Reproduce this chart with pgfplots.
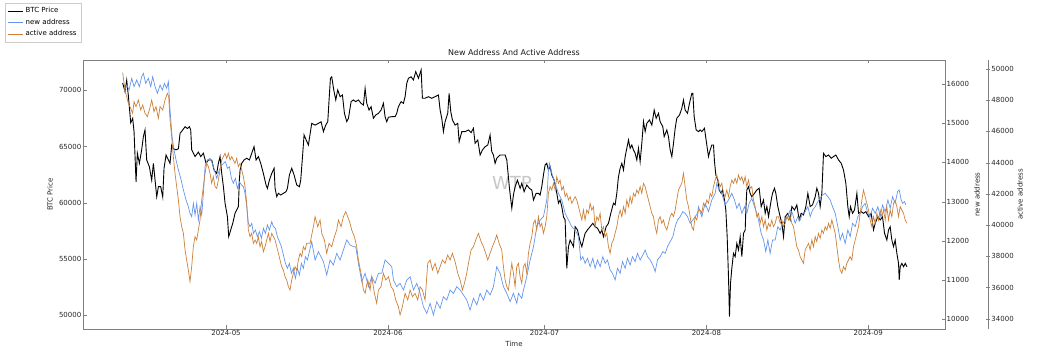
\documentclass[border=0pt]{standalone}
\usepackage{fontspec}
\setmainfont{DejaVu Sans}
\usepackage{pgfplots}
\pgfplotsset{compat=1.18}
\definecolor{nblue}{RGB}{100,149,237}
\definecolor{aorange}{RGB}{205,128,55}
\definecolor{framec}{RGB}{128,128,128}
\newcommand\tk{\fontsize{7}{8}\selectfont}
\pgfplotsset{
  base/.style={scale only axis, width=862pt, height=269pt,
    axis line style={framec}, tick style={framec},
    major tick length=3.5pt, tick align=inside,
    tick label style={font=\tk, text=black!85},
    label style={font=\tk, text=black!85},
    /pgf/number format/assume math mode=true,
    /pgf/number format/fixed, /pgf/number format/1000 sep={},
    scaled y ticks=false, scaled x ticks=false,
    yticklabel style={inner sep=1.5pt},
    xticklabel style={inner sep=1.5pt}
  }
}
\begin{document}
\begin{tikzpicture}
\useasboundingbox (0,0) rectangle (1039pt,352pt);
% ---------- BTC price (left axis) ----------
\begin{axis}[base, at={(83pt,23pt)}, anchor=south west,
  xmin=-27.4, xmax=137.7, ymin=48754, ymax=72697,
  xtick={0,31,61,92,123},
  xticklabels={2024-05,2024-06,2024-07,2024-08,2024-09},
  ytick={50000,55000,60000,65000,70000},
  xtick pos=both, xticklabel pos=bottom, ytick pos=left,
  xlabel={Time}, ylabel={BTC Price},
  title={New Address And Active Address},
  xlabel style={at={(axis description cs:0.5,-0.0558)}, anchor=center},
  ylabel style={at={(axis description cs:-0.0383,0.5)}, anchor=center},
  title style={at={(axis description cs:0.5,1.004)}, anchor=center, font=\fontsize{8}{9}\selectfont, text=black!90},
  legend cell align=left,
  legend style={at={(-0.0905,1.212)}, anchor=north west, font=\tk, draw=black!20, inner sep=2.5pt, row sep=0.6pt},
  legend image code/.code={\draw[#1] (0pt,0pt) -- (15pt,0pt);},
]
\node[text=black!22, font=\fontsize{18}{18}\selectfont] at (rel axis cs:0.4977,0.5428) {WTP};
\addplot[black, line width=0.9pt] coordinates {
(-19.80,70650) (-19.35,69875) (-19.03,70900) (-18.71,69500) (-18.26,67100) (-17.88,67500) (-17.62,66300) (-17.24,61860) (-16.99,64400) (-16.60,63500) (-16.16,64700) (-15.84,65870) (-15.52,66470) (-15.20,63800) (-14.69,63200) (-14.24,62000) (-13.92,63500) (-13.28,60530) (-12.96,61420) (-12.52,61420) (-12.13,60500) (-11.88,63060) (-11.49,64240) (-11.05,63800) (-10.73,63500) (-10.41,65130) (-10.09,64800) (-9.58,64700) (-9.13,64800) (-8.81,66170) (-8.30,66470) (-7.85,66760) (-7.41,66600) (-7.02,66760) (-6.77,66470) (-6.58,64700) (-5.94,64100) (-5.30,64500) (-4.85,64100) (-4.34,64400) (-3.83,63500) (-3.38,63800) (-2.75,63800) (-2.30,62900) (-1.79,62600) (-1.47,63500) (-1.15,64100) (-0.83,62600) (-0.51,61420) (-0.19,59950) (0.26,58750) (0.51,56970) (0.89,57570) (1.28,58160) (1.72,59050) (2.04,59350) (2.36,59650) (2.55,62000) (2.68,62900) (3.00,63500) (3.45,63800) (3.96,63950) (4.47,63800) (4.92,64400) (5.36,64980) (5.75,63800) (6.19,64100) (6.64,63500) (7.15,62600) (7.66,61570) (7.92,61270) (8.30,62000) (8.75,62600) (9.20,63060) (9.39,61280) (9.71,60530) (10.03,60830) (10.47,60680) (10.98,60830) (11.49,60980) (11.75,61270) (12.13,62460) (12.58,63060) (13.03,62460) (13.54,61570) (14.05,61420) (14.30,62000) (14.69,64390) (14.94,66020)
(15.77,65130) (16.41,67060) (17.05,66900) (17.69,67060) (18.20,67200) (18.65,66320) (19.09,66900) (19.48,67200) (19.73,69140) (19.99,71070) (20.24,71200) (20.63,70030) (21.01,69140) (21.39,70030) (21.84,69430) (22.29,69580) (22.67,67950) (23.12,67210) (23.44,67500) (23.95,68990) (24.39,69140) (24.84,68990) (25.35,69140) (25.86,68840) (26.31,68690) (26.63,70170) (26.95,68840) (27.39,68240) (27.78,68540) (28.22,67510) (28.67,67800) (29.18,67950) (29.69,68240) (30.14,68840) (30.46,67650) (30.78,67200) (31.10,67600) (31.74,67650) (32.38,67650) (32.69,67950) (33.01,68540) (33.52,68990) (33.97,68840) (34.29,69430) (34.61,70620) (34.93,71070) (35.44,71200) (35.89,70920) (36.33,71660) (36.85,71070) (37.36,71810) (37.61,69290) (38.12,69290) (38.76,69430) (39.40,69290) (40.04,69430) (40.68,69580) (41.00,68240) (41.31,67510) (41.63,66320) (41.95,67200) (42.46,67950) (42.72,69730) (43.04,68100) (43.36,67360) (43.87,66900) (44.38,67060) (44.64,65420) (45.15,66320) (45.79,66320) (46.42,66470) (46.93,66230) (47.38,66620) (47.70,65280) (48.21,65580) (48.66,64240) (49.11,64690) (49.62,64980) (50.13,65130) (50.57,66020) (50.89,64540) (51.21,64240) (51.53,63500) (51.85,63950) (52.49,64240)
(53.45,64240) (53.77,63800) (54.28,61280) (54.73,59500) (55.04,60680) (55.36,61420) (55.81,62000) (56.32,61270) (56.64,61720) (57.09,60980) (57.60,61570) (58.11,61270) (58.56,61130) (58.88,60230) (59.39,60830) (59.83,60830) (60.15,60680) (60.47,61420) (60.79,62460) (61.11,63350) (61.43,63500) (61.75,62900) (62.07,63200) (62.39,62460) (62.84,62000) (63.35,60830) (63.67,59950) (63.98,60230) (64.30,59650) (64.62,58750) (64.94,58460) (65.26,54160) (65.58,56080) (65.90,56670) (66.22,56380) (66.54,56080) (66.86,57860) (67.31,57570) (67.82,56520) (68.14,56080) (68.45,56670) (68.77,57270) (69.22,57570) (69.73,57860) (70.24,58160) (70.69,57860) (71.14,57720) (71.65,57270) (71.97,57570) (72.29,56970) (72.80,57860) (73.24,58160) (73.69,59050) (74.20,59950) (74.52,59800) (74.84,60830) (75.16,62310) (75.48,63060) (75.80,63500) (76.12,62900) (76.44,64100) (76.76,64840) (77.08,65580) (77.39,64840) (77.71,65130) (78.03,64690) (78.35,64400) (78.67,63800) (78.99,64840) (79.31,63650) (79.63,65280) (79.95,67210) (80.27,66320) (80.59,67060) (81.10,67360) (81.55,66900) (82.00,68240) (82.38,67510) (82.82,67950) (83.14,67200) (83.65,66760) (83.91,65870) (84.42,66470) (84.74,65870) (85.06,64690) (85.38,64100) (85.70,65280) (86.02,66620) (86.33,67510) (86.85,67800) (87.29,68390) (87.61,69140) (87.93,68240) (88.38,67950) (88.76,68840) (89.21,69730) (89.40,69730) (89.66,67650) (90.04,66470) (90.49,66320)
(90.80,66470) (91.12,66320) (91.63,66620) (92.08,65130) (92.40,64100) (92.72,64690) (93.04,65130) (93.36,65130) (93.55,63650) (93.81,62460) (94.19,62000) (94.44,61130) (94.83,60830) (95.08,61130) (95.47,60230) (95.72,59350) (95.98,56970) (96.23,53410) (96.42,49850) (96.62,52820) (96.87,54160) (97.19,55490) (97.51,55190) (97.83,56380) (98.15,55790) (98.47,56970) (98.79,55190) (99.11,57270) (99.43,57570) (99.55,59350) (99.74,61130) (100.06,61420) (100.38,60830) (100.70,60530) (101.21,60830) (101.66,61130) (102.11,61280) (102.49,59640) (102.94,60230) (103.26,59050) (103.58,59650) (103.90,58750) (104.41,60230) (104.66,60830) (105.04,61280) (105.30,60830) (105.68,59650) (106.13,58750) (106.45,58160) (106.77,56970) (107.09,58750) (107.60,59050) (108.05,58460) (108.37,59650) (108.88,59350) (109.32,59800) (109.77,58460) (110.15,59050) (110.60,58900) (111.05,59650) (111.43,60830) (111.88,59650) (112.33,59800) (112.84,60530) (113.15,61280) (113.47,60830) (113.79,59650) (114.11,60830) (114.43,64390) (114.88,64100) (115.39,64240) (115.90,63950) (116.35,64100) (116.79,64240) (117.31,63800) (117.82,63500) (118.26,62900) (118.71,61720) (119.09,59640) (119.35,58750) (119.60,59650) (119.99,59050) (120.37,59350) (120.82,60830) (121.14,59050) (121.65,59200) (122.09,59050) (122.54,59200) (123.05,58750) (123.56,59050) (124.01,57570) (124.33,58160) (124.84,58750) (125.29,58460) (125.73,58750) (126.12,57270) (126.56,56670) (126.88,57570) (127.20,57860) (127.52,56670) (127.84,56080) (128.16,56670) (128.48,55490) (128.80,54600) (128.93,53120) (129.12,54300) (129.44,54600) (129.76,54300) (130.08,54600) (130.40,54300)
};
\addlegendentry{BTC Price}
\addlegendimage{nblue, line width=0.7pt}
\addlegendentry{new address}
\addlegendimage{aorange, line width=0.7pt}
\addlegendentry{active address}
\end{axis}
% ---------- new address (right axis) ----------
\begin{axis}[base, at={(83pt,23pt)}, anchor=south west,
  xmin=-27.4, xmax=137.7, ymin=9753, ymax=16612,
  hide x axis, axis y line*=right,
  ytick={10000,11000,12000,13000,14000,15000,16000},
  ylabel={new address},
  ylabel style={at={(axis description cs:1.0371,0.5)}, anchor=center},
]
\addplot[nblue, line width=0.7pt] coordinates {
(-19.54,15805) (-19.03,15975) (-18.58,15847) (-18.07,16144) (-17.62,15932) (-17.11,16102) (-16.60,15932) (-16.16,16187) (-15.84,16272) (-15.39,16017) (-14.88,16144) (-14.43,15932) (-14.05,16187) (-13.60,15932) (-13.15,15762) (-12.64,15975) (-12.20,15847) (-11.81,16017) (-11.37,15890) (-11.05,16060) (-10.73,15337) (-10.34,14657) (-9.96,14317) (-9.58,14062) (-9.13,13807) (-8.68,13595) (-8.17,13297) (-7.66,13042) (-7.22,12872) (-6.90,12702) (-6.58,12617) (-6.26,12957) (-5.94,12660) (-5.62,12957) (-5.30,12532) (-4.98,12872) (-4.66,12660) (-4.34,13212) (-4.02,13892) (-3.58,14062) (-3.07,14105) (-2.62,13977) (-2.23,13807) (-1.79,13595) (-1.40,13765) (-1.02,13892) (-0.51,13977) (-0.13,14020) (0.26,13850) (0.64,13892) (1.02,13595) (1.40,13467) (1.79,13595) (2.17,13340) (2.55,13510) (2.94,13425) (3.32,13382) (3.64,13212) (3.96,12872) (4.28,12447) (4.60,12362) (4.92,12447) (5.24,12192) (5.62,12277) (6.00,12107) (6.39,12235) (6.77,12065) (7.15,12320) (7.54,12192) (7.92,12405) (8.30,12277) (8.75,12490) (9.07,12362) (9.45,12320) (9.83,12107) (10.22,11980) (10.60,11852) (10.98,11640) (11.37,11427) (11.75,11300) (12.13,11427) (12.52,11172) (12.90,11300) (13.28,11045) (13.67,11300) (14.05,11130) (14.43,11427) (14.81,11300) (15.20,11597) (15.58,11512)
(16.41,11980) (17.05,11512) (17.69,11725) (18.65,11470) (19.28,11130) (19.92,11512) (20.56,11385) (21.20,11682) (21.84,11512) (22.48,11767) (23.12,12022) (23.75,11895) (24.39,11852) (24.84,11852) (25.35,11427) (25.99,10960) (26.63,11172) (27.27,10832) (27.91,11087) (28.54,10917) (29.18,11172) (29.82,11172) (30.46,11512) (31.10,11427) (31.74,11342) (32.06,11002) (32.69,10832) (33.33,10917) (33.97,10747) (34.61,11002) (35.25,11087) (35.89,10747) (36.53,10917) (37.16,10662) (37.80,10322) (38.44,10152) (39.08,10407) (39.72,10110) (40.36,10450) (41.00,10280) (41.63,10577) (42.27,10492) (42.91,10747) (43.55,10662) (44.19,10832) (44.83,10747) (45.47,10620) (46.10,10492) (46.74,10237) (47.38,10535) (48.02,10365) (48.66,10662) (49.30,10492) (49.94,10747) (50.57,10620) (51.21,10832) (51.85,11342) (52.49,11172)
(53.13,10832) (53.77,10662) (54.41,10450) (55.04,10662) (55.68,10407) (56.00,10662) (56.64,10535) (56.96,10747) (57.60,11087) (58.24,11512) (58.88,11852) (59.51,12362) (60.15,12532) (60.79,12617) (61.43,13042) (61.75,13807) (61.94,13977) (62.39,13722) (63.03,13467) (63.67,13212) (64.30,13042) (64.94,12702) (65.58,12532) (66.22,12362) (66.86,12277) (67.50,12107) (67.94,11512) (68.33,11597) (68.77,11427) (69.22,11555) (69.73,11342) (70.24,11555) (70.69,11300) (71.14,11512) (71.65,11342) (72.16,11597) (72.61,11427) (73.05,11512) (73.56,11257) (74.01,11172) (74.52,11002) (74.97,11300) (75.48,11172) (75.93,11470) (76.44,11300) (76.88,11555) (77.39,11385) (77.84,11597) (78.35,11470) (78.80,11682) (79.31,11512) (79.82,11640) (80.27,11767) (80.72,11597) (81.23,11512) (81.74,11385) (82.18,11215) (82.63,11512) (83.14,11597) (83.65,11725) (84.10,11682) (84.55,11852) (85.06,11980) (85.57,12107) (86.02,12362) (86.46,12532) (86.97,12617) (87.48,12745) (87.93,12702) (88.38,12617) (88.89,12447) (89.40,12532) (89.85,12617) (90.29,12702)
(90.49,12872) (91.12,12617) (91.76,12957) (92.40,12745) (93.04,13042) (93.68,13212) (93.99,13467) (94.32,13340) (94.96,13212) (95.59,12915) (96.23,13042) (96.87,13212) (97.38,13042) (97.83,12830) (98.28,12957) (98.79,12702) (99.30,12872) (99.74,12702) (100.19,12957) (100.70,13085) (101.21,12872) (101.66,12702) (101.98,12532) (102.49,12192) (102.94,12022) (103.38,11725) (103.77,12022) (104.21,11682) (104.66,12022) (105.17,12022) (105.68,12362) (106.13,12277) (106.58,12447) (107.09,12532) (107.60,12617) (108.05,12787) (108.49,12702) (109.00,12447) (109.51,12617) (109.96,12532) (110.41,12702) (110.92,12745) (111.43,12872) (111.88,12617) (112.33,12787) (112.84,12872) (113.35,13000) (113.79,13085) (114.24,13170) (114.75,13212) (115.26,13127) (115.71,13042) (116.16,12872) (116.67,12702) (117.18,12362) (117.62,12022) (118.07,12192) (118.58,11937) (119.09,12277) (119.54,12107) (119.99,12447) (120.50,12362) (121.01,12617) (121.46,12702) (121.90,12872) (122.41,12957) (122.92,12702) (123.37,12617) (123.82,12830) (124.33,12702) (124.84,12872) (125.29,12617) (125.73,12915) (126.25,12745) (126.76,13042) (127.20,12830) (127.65,13127) (128.16,12957) (128.61,13255) (128.93,13297) (129.31,13042) (129.57,12957) (129.95,13000) (130.21,12915)
};
\end{axis}
% ---------- active address (offset right axis) ----------
\begin{axis}[base, at={(126pt,23pt)}, anchor=south west,
  xmin=-19.16, xmax=145.94, ymin=33340, ymax=50577, clip=false,
  hide x axis, axis y line*=right, tick align=center,
  ytick={34000,36000,38000,40000,42000,44000,46000,48000,50000},
  ylabel={active address},
  ylabel style={at={(axis description cs:1.0371,0.5)}, anchor=center},
]
\addplot[aorange, line width=0.7pt] coordinates {
(-19.80,49765) (-19.35,48655) (-19.03,48227) (-18.71,47800) (-18.26,47480) (-17.88,47159) (-17.62,47907) (-17.24,47587) (-16.79,48014) (-16.35,47373) (-15.96,47693) (-15.52,47159) (-15.07,46946) (-14.69,47373) (-14.24,48014) (-13.79,47266) (-13.41,47587) (-12.96,46839) (-12.64,47587) (-12.13,47373) (-11.69,48014) (-11.24,48441) (-10.98,48227) (-10.73,46732) (-10.41,45664) (-10.09,44383) (-9.77,43315) (-9.45,42460) (-9.13,41606) (-8.81,40538) (-8.49,39897) (-8.17,39470) (-7.85,38402) (-7.54,37761) (-7.22,37120) (-6.90,36373) (-6.58,37334) (-6.26,38615) (-5.94,39256) (-5.62,39043) (-5.30,39684) (-4.98,40326) (-4.66,41606) (-4.34,42460) (-4.02,43315) (-3.70,43956) (-3.38,43742) (-3.07,43315) (-2.75,42674) (-2.43,43101) (-2.11,42460) (-1.79,42353) (-1.47,42887) (-1.15,43528) (-0.83,44169) (-0.51,44383) (-0.19,44596) (0.13,44276) (0.45,44596) (0.77,44169) (1.09,44383) (1.40,44169) (1.72,43956) (2.04,44276) (2.36,43742) (2.68,43956) (3.00,43528) (3.32,43101) (3.64,42460) (3.96,41392) (4.28,39684) (4.60,39256) (4.92,39470) (5.24,38829) (5.56,39043) (5.87,38829) (6.19,39256) (6.51,38615) (6.83,38936) (7.15,38295) (7.47,38615) (7.79,39043) (8.11,39470) (8.43,38936) (8.75,39470) (9.07,39256) (9.39,39043) (9.71,38615) (10.03,38188) (10.34,37761) (10.66,37334) (10.98,37120) (11.30,36693) (11.62,36479) (11.94,36052) (12.26,35839) (12.58,36479) (12.90,36907) (13.22,37334) (13.54,37120) (13.86,37761) (14.18,38188) (14.50,37975) (14.81,38615) (15.13,38402) (15.45,38829)
(16.09,38829) (16.73,39897) (17.05,40538) (17.56,39897) (18.01,40324) (18.33,39470) (18.84,39043) (19.28,38188) (19.73,38829) (20.24,38615) (20.75,39256) (21.20,39684) (21.52,40324) (22.03,39897) (22.48,40538) (22.92,40858) (23.31,40538) (23.75,40111) (24.07,39684) (24.58,39256) (25.03,38615) (25.35,37761) (25.86,36907) (26.31,35839) (26.63,35625) (27.14,36479) (27.59,35839) (27.91,36693) (28.42,35625) (28.86,34984) (29.18,35839) (29.69,36052) (30.14,36907) (30.59,36479) (31.10,36693) (31.61,36052) (32.06,35839) (32.50,35198) (33.01,34771) (33.33,34237) (33.78,34771) (34.29,35625) (34.80,35198) (35.25,35839) (35.70,35411) (36.21,35625) (36.72,35198) (37.16,36052) (37.61,35839) (38.12,35198) (38.63,37547) (39.08,37761) (39.53,37120) (40.04,37547) (40.56,36907) (41.00,37334) (41.45,37761) (41.95,37547) (42.46,38081) (42.91,37761) (43.36,38188) (43.87,37654) (44.38,36907) (44.83,36479) (45.27,35839) (45.66,36266) (46.10,36907) (46.55,37761) (46.93,38402) (47.38,38615) (47.83,39043) (48.34,39470) (48.85,38936) (49.30,38615) (49.74,38188) (50.13,37761) (50.57,38188) (51.02,38615) (51.53,39043) (51.85,39363) (52.30,38829) (52.81,38402)
(53.13,37334) (53.45,36479) (53.77,36052) (54.09,35839) (54.41,36693) (54.73,37547) (55.04,36907) (55.36,36052) (55.68,37334) (56.00,37547) (56.32,36693) (56.64,36266) (56.96,37334) (57.28,37547) (57.60,36907) (57.92,38188) (58.24,38829) (58.56,39256) (58.88,40111) (59.20,40324) (59.51,39684) (59.83,40538) (60.15,39897) (60.47,40111) (60.79,39470) (61.11,39897) (61.43,40538) (61.75,42033) (62.07,42460) (62.39,42247) (62.71,42674) (63.03,42247) (63.35,43101) (63.67,42674) (63.98,42887) (64.30,42247) (64.62,42460) (64.94,41819) (65.26,42033) (65.58,41606) (65.90,41819) (66.22,41392) (66.54,41606) (66.86,41819) (67.18,41606) (67.50,41179) (67.82,40751) (68.14,40324) (68.45,40965) (68.77,40324) (69.09,40965) (69.41,40751) (69.73,41392) (70.05,40965) (70.37,41179) (70.69,39897) (71.01,40538) (71.33,40324) (71.65,40751) (71.97,39684) (72.29,39897) (72.61,39256) (72.92,39470) (73.24,38615) (73.56,38188) (73.88,38829) (74.20,39043) (74.52,39470) (74.84,39897) (75.16,40538) (75.48,40965) (75.80,40538) (76.12,41179) (76.44,40751) (76.76,41606) (77.08,41179) (77.39,41819) (77.71,41392) (78.03,42033) (78.35,41819) (78.67,42247) (78.99,42033) (79.31,42460) (79.63,42033) (79.95,42674) (80.27,42460) (80.59,42033) (80.91,41606) (81.23,41179) (81.55,40751) (81.86,40538) (82.18,39897) (82.50,39470) (82.82,40324) (83.14,40538) (83.46,40111) (83.78,40324) (84.10,39897) (84.42,39684) (84.74,40111) (85.06,40538) (85.38,40751) (85.70,40538) (86.02,40965) (86.33,41606) (86.65,42247) (86.97,42460) (87.29,42674) (87.61,43315) (87.93,42460) (88.25,41606) (88.57,41179) (88.89,40538) (89.21,39897) (89.53,39684) (89.85,40538) (90.17,40324) (90.49,40965)
(90.80,40965) (91.12,40751) (91.44,41392) (91.76,41179) (92.08,41606) (92.40,41392) (92.72,42033) (93.04,41819) (93.36,42460) (93.68,42887) (93.99,43208) (94.32,42781) (94.64,42460) (94.96,42674) (95.27,42033) (95.59,41819) (95.91,42247) (96.23,41819) (96.55,42460) (96.87,42887) (97.19,42674) (97.51,42994) (97.83,42674) (98.15,43208) (98.47,42887) (98.79,43101) (99.11,42674) (99.43,43101) (99.74,42460) (100.06,42887) (100.38,42353) (100.70,42460) (101.02,41606) (101.34,41179) (101.66,40538) (101.98,40751) (102.30,40111) (102.62,40538) (102.94,39897) (103.26,40324) (103.58,39684) (103.90,40111) (104.21,39897) (104.53,40324) (104.85,39897) (105.17,40111) (105.49,40538) (105.81,40538) (106.13,40111) (106.45,40324) (106.77,39897) (107.09,40111) (107.41,40538) (107.73,40324) (108.05,40538) (108.37,40111) (108.69,39897) (109.00,39256) (109.32,38615) (109.64,38402) (109.96,37975) (110.28,37761) (110.60,37547) (110.92,38402) (111.24,38615) (111.56,38829) (111.88,38402) (112.20,39043) (112.52,38615) (112.84,39256) (113.15,38936) (113.47,39470) (113.79,39149) (114.11,39684) (114.43,39470) (114.75,39897) (115.07,39684) (115.39,40111) (115.71,39790) (116.03,40324) (116.35,39897) (116.67,39470) (116.99,38615) (117.31,37761) (117.62,37120) (117.94,36907) (118.26,37334) (118.58,37120) (118.90,37547) (119.22,37761) (119.54,37975) (119.86,37761) (120.18,38615) (120.50,39043) (120.82,39470) (121.14,39897) (121.46,40751) (121.78,41606) (122.09,42247) (122.41,41819) (122.73,41392) (123.05,40965) (123.37,40324) (123.69,39897) (124.01,40538) (124.33,40111) (124.65,40751) (124.97,40324) (125.29,40965) (125.61,40538) (125.93,40965) (126.25,40324) (126.56,41179) (126.88,40324) (127.20,40965) (127.52,40538) (127.84,41392) (128.16,41606) (128.48,41179) (128.80,40538) (129.12,41179) (129.44,40965) (129.76,40751) (130.08,40324) (130.40,40111)
};
\end{axis}
\end{tikzpicture}
\end{document}
